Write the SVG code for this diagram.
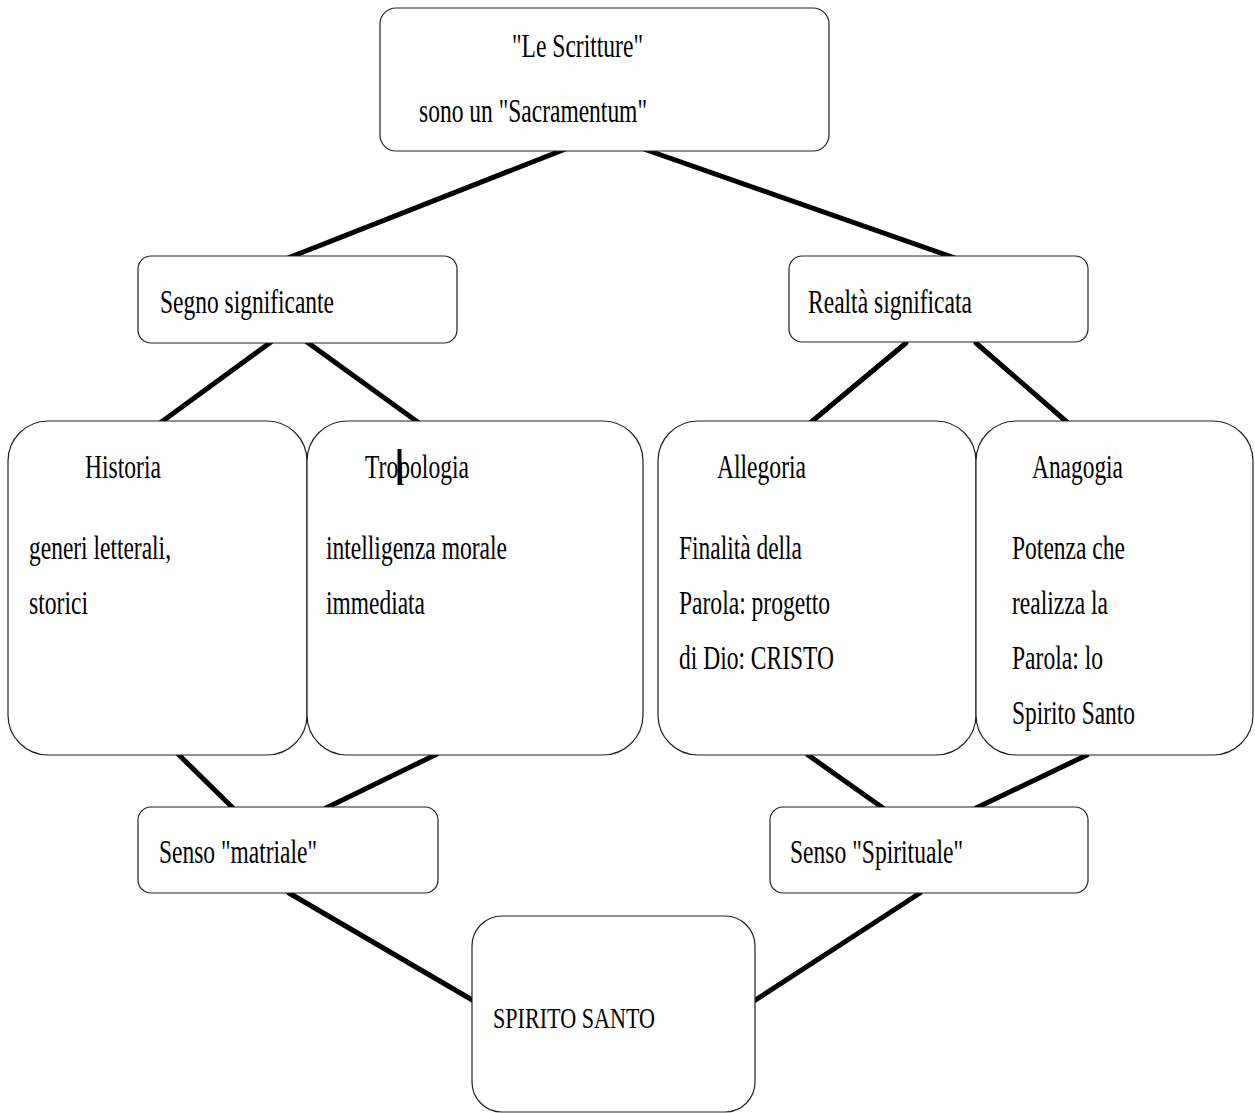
<svg xmlns="http://www.w3.org/2000/svg" width="1255" height="1113" viewBox="0 0 1255 1113">
<style>
.box{fill:#fff;stroke:#222;stroke-width:1.2}
.t{font-family:'Liberation Serif','Times New Roman',serif;font-size:34px;fill:#000}
.s{font-size:30px}
.c{stroke:#000;stroke-width:5;stroke-linecap:round;fill:none}
</style>
<rect width="1255" height="1113" fill="#fff"/>
<g id="connectors">
<line class="c" x1="568" y1="148" x2="288" y2="258"/>
<line class="c" x1="641" y1="148" x2="955" y2="258"/>
<line class="c" x1="271" y1="342" x2="160" y2="423"/>
<line class="c" x1="307" y1="342" x2="419" y2="423"/>
<line class="c" x1="906" y1="343" x2="810" y2="423"/>
<line class="c" x1="976" y1="343" x2="1068" y2="423"/>
<line class="c" x1="177" y1="753" x2="233" y2="808"/>
<line class="c" x1="437" y1="754" x2="326" y2="808"/>
<line class="c" x1="808" y1="755" x2="883" y2="808"/>
<line class="c" x1="1087" y1="755" x2="976" y2="808"/>
<line class="c" x1="289" y1="893" x2="474" y2="1001"/>
<line class="c" x1="920" y1="893" x2="754" y2="1001"/>
</g>
<g id="n-scritture">
<rect class="box" x="380" y="8" width="449" height="143" rx="16"/>
<text class="t" x="512" y="57" textLength="131" lengthAdjust="spacingAndGlyphs">"Le Scritture"</text>
<text class="t" x="419" y="122" textLength="228" lengthAdjust="spacingAndGlyphs">sono un "Sacramentum"</text>
</g>
<g id="n-segno">
<rect class="box" x="138" y="256" width="319" height="87" rx="13"/>
<text class="t" x="160" y="313" textLength="174" lengthAdjust="spacingAndGlyphs">Segno significante</text>
</g>
<g id="n-realta">
<rect class="box" x="789" y="256" width="299" height="86" rx="13"/>
<text class="t" x="808" y="313" textLength="164" lengthAdjust="spacingAndGlyphs">Realtà significata</text>
</g>
<g id="n-historia">
<rect class="box" x="8" y="421" width="299" height="334" rx="40"/>
<text class="t" x="85" y="478" textLength="76" lengthAdjust="spacingAndGlyphs">Historia</text>
<text class="t" x="29" y="559" textLength="142" lengthAdjust="spacingAndGlyphs">generi letterali,</text>
<text class="t" x="29" y="614" textLength="59" lengthAdjust="spacingAndGlyphs">storici</text>
</g>
<g id="n-tropologia">
<rect class="box" x="307" y="421" width="336" height="334" rx="40"/>
<text class="t" x="365" y="478" textLength="104" lengthAdjust="spacingAndGlyphs">Tropologia</text>
<line x1="399.5" y1="449" x2="399.5" y2="485" stroke="#000" stroke-width="4"/>
<text class="t" x="326" y="559" textLength="181" lengthAdjust="spacingAndGlyphs">intelligenza morale</text>
<text class="t" x="326" y="614" textLength="99" lengthAdjust="spacingAndGlyphs">immediata</text>
</g>
<g id="n-allegoria">
<rect class="box" x="658" y="421" width="318" height="334" rx="40"/>
<text class="t" x="717" y="478" textLength="89" lengthAdjust="spacingAndGlyphs">Allegoria</text>
<text class="t" x="679" y="559" textLength="123" lengthAdjust="spacingAndGlyphs">Finalità della</text>
<text class="t" x="679" y="614" textLength="151" lengthAdjust="spacingAndGlyphs">Parola: progetto</text>
<text class="t" x="679" y="669" textLength="155" lengthAdjust="spacingAndGlyphs">di Dio: CRISTO</text>
</g>
<g id="n-anagogia">
<rect class="box" x="976" y="421" width="277" height="334" rx="40"/>
<text class="t" x="1032" y="478" textLength="91" lengthAdjust="spacingAndGlyphs">Anagogia</text>
<text class="t" x="1012" y="559" textLength="113" lengthAdjust="spacingAndGlyphs">Potenza che</text>
<text class="t" x="1012" y="614" textLength="96" lengthAdjust="spacingAndGlyphs">realizza la</text>
<text class="t" x="1012" y="669" textLength="91" lengthAdjust="spacingAndGlyphs">Parola: lo</text>
<text class="t" x="1012" y="724" textLength="123" lengthAdjust="spacingAndGlyphs">Spirito Santo</text>
</g>
<g id="n-materiale">
<rect class="box" x="138" y="807" width="300" height="86" rx="13"/>
<text class="t" x="159" y="863" textLength="158" lengthAdjust="spacingAndGlyphs">Senso "matriale"</text>
</g>
<g id="n-spirituale">
<rect class="box" x="770" y="807" width="318" height="86" rx="13"/>
<text class="t" x="790" y="863" textLength="173" lengthAdjust="spacingAndGlyphs">Senso "Spirituale"</text>
</g>
<g id="n-spirito">
<rect class="box" x="472" y="916" width="283" height="196" rx="30"/>
<text class="t s" x="493" y="1028" textLength="162" lengthAdjust="spacingAndGlyphs">SPIRITO SANTO</text>
</g>
</svg>
